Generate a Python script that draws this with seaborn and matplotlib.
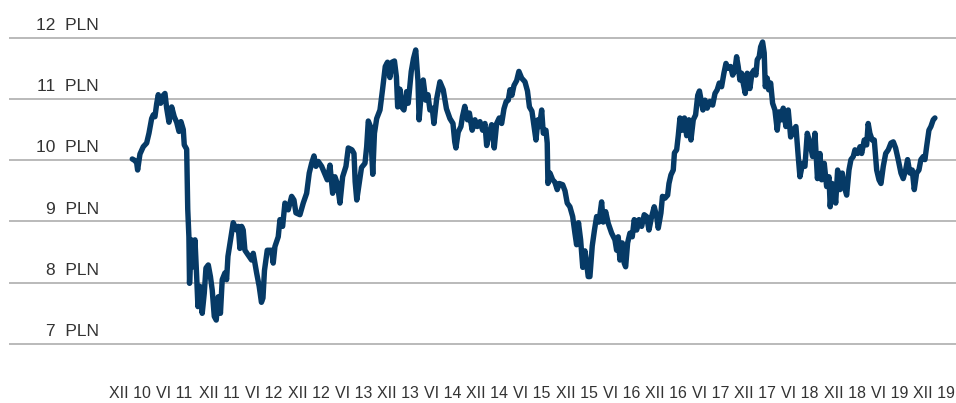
import numpy as np
import pandas as pd
import matplotlib
matplotlib.use("Agg")
import matplotlib.pyplot as plt
import seaborn as sns

# share price (PLN), time as decimal year
years = [
    2010.986, 2011.010, 2011.035, 2011.046, 2011.072, 2011.109, 2011.147, 2011.173, 2011.203, 2011.221,
    2011.240, 2011.259, 2011.277, 2011.304, 2011.322, 2011.352, 2011.371, 2011.397, 2011.427, 2011.456,
    2011.483, 2011.509, 2011.531, 2011.557, 2011.568, 2011.595, 2011.607, 2011.620, 2011.627, 2011.648,
    2011.669, 2011.688, 2011.707, 2011.721, 2011.744, 2011.769, 2011.792, 2011.811, 2011.837, 2011.861,
    2011.881, 2011.904, 2011.926, 2011.948, 2011.973, 2011.993, 2012.023, 2012.042, 2012.057, 2012.091,
    2012.116, 2012.154, 2012.172, 2012.191, 2012.210, 2012.228, 2012.247, 2012.284, 2012.322, 2012.340,
    2012.378, 2012.407, 2012.432, 2012.449, 2012.466, 2012.497, 2012.546, 2012.564, 2012.583, 2012.620,
    2012.639, 2012.669, 2012.695, 2012.732, 2012.770, 2012.796, 2012.818, 2012.863, 2012.900, 2012.938,
    2012.967, 2012.994, 2013.020, 2013.042, 2013.068, 2013.106, 2013.132, 2013.169, 2013.199, 2013.229,
    2013.255, 2013.281, 2013.311, 2013.341, 2013.378, 2013.404, 2013.445, 2013.468, 2013.481, 2013.499,
    2013.516, 2013.552, 2013.591, 2013.610, 2013.628, 2013.652, 2013.678, 2013.697, 2013.722, 2013.759,
    2013.789, 2013.818, 2013.843, 2013.870, 2013.893, 2013.921, 2013.943, 2013.957, 2013.982, 2014.001,
    2014.027, 2014.057, 2014.075, 2014.109, 2014.134, 2014.159, 2014.184, 2014.197, 2014.218, 2014.243,
    2014.271, 2014.296, 2014.318, 2014.344, 2014.363, 2014.393, 2014.430, 2014.467, 2014.503, 2014.542,
    2014.576, 2014.596, 2014.609, 2014.635, 2014.665, 2014.682, 2014.708, 2014.738, 2014.760, 2014.791,
    2014.822, 2014.848, 2014.878, 2014.908, 2014.934, 2014.953, 2014.982, 2015.009, 2015.038, 2015.065,
    2015.094, 2015.121, 2015.147, 2015.172, 2015.195, 2015.214, 2015.236, 2015.259, 2015.289, 2015.314,
    2015.345, 2015.382, 2015.410, 2015.432, 2015.460, 2015.477, 2015.505, 2015.527, 2015.544, 2015.569,
    2015.587, 2015.617, 2015.631, 2015.639, 2015.662, 2015.692, 2015.717, 2015.743, 2015.766, 2015.804,
    2015.830, 2015.855, 2015.885, 2015.916, 2015.941, 2015.960, 2015.981, 2016.005, 2016.029, 2016.053,
    2016.072, 2016.090, 2016.109, 2016.135, 2016.160, 2016.184, 2016.210, 2016.240, 2016.258, 2016.285,
    2016.314, 2016.352, 2016.389, 2016.408, 2016.426, 2016.445, 2016.471, 2016.493, 2016.509, 2016.531,
    2016.557, 2016.583, 2016.605, 2016.632, 2016.658, 2016.688, 2016.717, 2016.744, 2016.770, 2016.800,
    2016.829, 2016.856, 2016.874, 2016.904, 2016.921, 2016.949, 2016.979, 2016.994, 2017.016, 2017.042,
    2017.055, 2017.080, 2017.098, 2017.117, 2017.142, 2017.167, 2017.192, 2017.217, 2017.240, 2017.266,
    2017.292, 2017.316, 2017.335, 2017.360, 2017.374, 2017.397, 2017.422, 2017.453, 2017.483, 2017.509,
    2017.534, 2017.557, 2017.583, 2017.609, 2017.632, 2017.657, 2017.684, 2017.707, 2017.732, 2017.751,
    2017.769, 2017.788, 2017.807, 2017.825, 2017.848, 2017.870, 2017.900, 2017.923, 2017.945, 2017.967,
    2017.982, 2018.004, 2018.020, 2018.042, 2018.060, 2018.072, 2018.094, 2018.110, 2018.132, 2018.154,
    2018.180, 2018.206, 2018.228, 2018.255, 2018.273, 2018.303, 2018.329, 2018.356, 2018.385, 2018.415,
    2018.441, 2018.460, 2018.490, 2018.516, 2018.542, 2018.572, 2018.602, 2018.628, 2018.656, 2018.684,
    2018.703, 2018.732, 2018.759, 2018.785, 2018.799, 2018.821, 2018.844, 2018.860, 2018.882, 2018.908,
    2018.934, 2018.956, 2018.983, 2019.009, 2019.031, 2019.057, 2019.076, 2019.106, 2019.132, 2019.151,
    2019.180, 2019.207, 2019.224, 2019.243, 2019.269, 2019.292, 2019.319, 2019.345, 2019.367, 2019.393,
    2019.420, 2019.449, 2019.479, 2019.505, 2019.531, 2019.560, 2019.591, 2019.616, 2019.643, 2019.665,
    2019.691, 2019.717, 2019.740, 2019.766, 2019.792, 2019.814, 2019.840, 2019.859, 2019.878, 2019.904,
    2019.926, 2019.952, 2019.971,
]
prices = [
    10.02, 10.00, 9.96, 9.84, 10.10, 10.22, 10.28, 10.44, 10.68, 10.74,
    10.71, 10.92, 11.07, 10.93, 11.04, 11.09, 10.85, 10.62, 10.87, 10.71,
    10.62, 10.47, 10.63, 10.50, 10.25, 10.18, 9.20, 8.75, 7.99, 8.70,
    8.26, 8.70, 8.10, 7.61, 7.94, 7.50, 7.83, 8.24, 8.29, 8.10,
    7.88, 7.45, 7.39, 7.77, 7.50, 8.05, 8.16, 8.05, 8.43, 8.75,
    8.98, 8.86, 8.92, 8.56, 8.92, 8.86, 8.53, 8.45, 8.37, 8.48,
    8.16, 7.94, 7.68, 7.75, 8.20, 8.53, 8.53, 8.32, 8.59, 8.75,
    9.03, 8.92, 9.30, 9.19, 9.41, 9.35, 9.14, 9.11, 9.30, 9.46,
    9.79, 9.95, 10.07, 9.90, 9.98, 9.90, 9.81, 9.68, 9.92, 9.46,
    9.73, 9.62, 9.30, 9.73, 9.90, 10.20, 10.17, 10.11, 9.65, 9.35,
    9.52, 9.88, 9.95, 10.22, 10.64, 10.55, 9.77, 10.44, 10.68, 10.82,
    11.17, 11.53, 11.60, 11.35, 11.60, 11.62, 11.36, 10.87, 11.16, 10.87,
    10.82, 11.12, 10.93, 11.45, 11.66, 11.80, 11.30, 10.66, 11.04, 11.31,
    10.98, 11.07, 10.82, 10.85, 10.60, 11.00, 11.28, 11.15, 10.84, 10.68,
    10.60, 10.30, 10.20, 10.46, 10.55, 10.71, 10.88, 10.66, 10.77, 10.49,
    10.66, 10.55, 10.63, 10.49, 10.60, 10.24, 10.44, 10.58, 10.20, 10.60,
    10.69, 10.60, 10.84, 10.96, 10.98, 11.15, 11.06, 11.22, 11.30, 11.45,
    11.34, 11.28, 11.13, 10.87, 10.80, 10.62, 10.33, 10.66, 10.55, 10.82,
    10.44, 10.49, 10.28, 9.62, 9.79, 9.68, 9.64, 9.52, 9.62, 9.60,
    9.50, 9.30, 9.24, 9.08, 8.81, 8.62, 8.98, 8.70, 8.25, 8.52,
    8.32, 8.10, 8.10, 8.60, 8.86, 9.08, 8.99, 9.32, 8.99, 9.16,
    8.97, 8.81, 8.70, 8.53, 8.75, 8.37, 8.65, 8.32, 8.26, 8.65,
    8.81, 8.75, 9.03, 8.86, 9.03, 8.92, 9.11, 9.08, 8.86, 9.08,
    9.24, 9.08, 8.89, 9.14, 9.41, 9.38, 9.43, 9.62, 9.76, 9.84,
    10.12, 10.17, 10.40, 10.69, 10.49, 10.69, 10.40, 10.66, 10.33, 10.66,
    10.74, 11.06, 11.13, 10.93, 10.82, 10.98, 10.85, 10.96, 10.90, 11.09,
    11.15, 11.26, 11.20, 11.42, 11.58, 11.50, 11.53, 11.39, 11.47, 11.69,
    11.53, 11.31, 11.42, 11.26, 11.09, 11.42, 11.17, 11.42, 11.47, 11.39,
    11.64, 11.69, 11.85, 11.93, 11.75, 11.20, 11.34, 11.15, 11.26, 10.93,
    10.82, 10.49, 10.79, 10.66, 10.85, 10.55, 10.82, 10.38, 10.49, 10.55,
    10.06, 9.73, 9.95, 9.90, 10.44, 10.28, 10.06, 10.44, 9.70, 10.11,
    9.68, 9.95, 9.57, 9.73, 9.24, 9.62, 9.52, 9.30, 9.84, 9.52,
    9.79, 9.57, 9.43, 9.84, 10.01, 10.06, 10.17, 10.11, 10.22, 10.11,
    10.33, 10.25, 10.60, 10.44, 10.33, 10.33, 9.84, 9.68, 9.62, 9.90,
    10.11, 10.17, 10.28, 10.30, 10.20, 10.01, 9.79, 9.70, 9.84, 10.01,
    9.79, 9.84, 9.52, 9.79, 9.84, 10.01, 10.06, 10.01, 10.22, 10.49,
    10.55, 10.66, 10.69,
]

tick_labels = ["XII 10", "VI 11", "XII 11", "VI 12", "XII 12", "VI 13", "XII 13",
               "VI 14", "XII 14", "VI 15", "XII 15", "VI 16", "XII 16", "VI 17",
               "XII 17", "VI 18", "XII 18", "VI 19", "XII 19"]
y_levels = [7, 8, 9, 10, 11, 12]

df = pd.DataFrame({"year": years, "price": prices})

sns.set_theme(style="white")
plt.rcParams["font.family"] = ["Liberation Sans", "DejaVu Sans"]

fig = plt.figure(figsize=(9.56, 4.03), dpi=100)
ax = fig.add_axes([0.0094, 0.1313, 0.9906, 0.7903])

# gridlines
for lvl in y_levels:
    ax.axhline(lvl, color="#b4b4b4", linewidth=1.3, zorder=1)

sns.lineplot(data=df, x="year", y="price", ax=ax, color="#063a66",
             linewidth=3.9, estimator=None, sort=True, zorder=3)
for line in ax.lines[-1:]:
    line.set_solid_joinstyle("round")
    line.set_solid_capstyle("round")

ax.set_xlim(2009.606, 2020.207)
ax.set_ylim(6.9, 12.1)

# y labels sit above each gridline
label_x = 2010.613
for lvl in y_levels:
    ax.text(label_x, lvl + 0.2, f"{lvl}  PLN", ha="right", va="center",
            fontsize=12.5, color="#333333")

tick_pos = [2010.96 + 0.5 * i for i in range(len(tick_labels))]
ax.set_xticks(tick_pos)
ax.set_xticklabels(tick_labels, fontsize=11.5, color="#333333")
ax.tick_params(axis="x", length=0, pad=26)
ax.set_yticks([])
ax.set_xlabel("")
ax.set_ylabel("")
for s in ax.spines.values():
    s.set_visible(False)

fig.savefig("out.png", dpi=100)
